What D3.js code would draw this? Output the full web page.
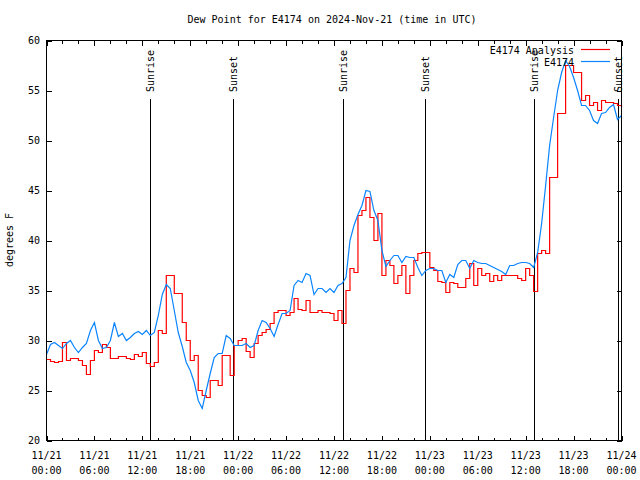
<!DOCTYPE html>
<html>
<head>
<meta charset="utf-8">
<script src="https://cdn.jsdelivr.net/npm/d3@7"></script>
<style>
  html, body { margin: 0; padding: 0; background: #fff; }
  svg { display: block; }
  text { font-family: "DejaVu Sans Mono", "Liberation Mono", monospace; font-size: 10px; fill: #000; }
</style>
</head>
<body>
<svg id="chart" width="640" height="480"></svg>
<script>
// ---------------- data ----------------
const titleText = "Dew Point for E4174 on 2024-Nov-21 (time in UTC)";
const yLabelText = "degrees F";
const startTime = "2024-11-21T00:00:00Z";
const endTime = "2024-11-24T00:00:00Z";
const stepMinutes = 30;
const seriesNames = ["E4174 Analysis", "E4174"];
const seriesColors = ["#ff0000", "#0a84ff"];

// E4174 Analysis (red), every 30 min from 11/21 00:00 UTC
const analysis = [
  28.1, 27.9, 27.8, 27.9, 29.8, 28.0, 28.2, 28.2, 28.0, 27.5,
  26.6, 28.0, 29.0, 28.8, 29.6, 29.3, 28.2, 28.2, 28.4, 28.4,
  28.2, 28.1, 28.6, 28.4, 28.8, 27.7, 27.4, 27.8, 31.0, 30.7,
  36.5, 36.5, 34.7, 34.7, 31.8, 30.0, 28.0, 28.5, 25.0, 24.5,
  24.3, 26.0, 26.0, 25.5, 28.5, 28.5, 26.5, 29.5, 30.0, 30.2,
  28.9, 28.3, 29.7, 30.5, 30.8, 31.1, 31.7, 32.8, 33.0, 33.0,
  32.5, 32.8, 34.2, 33.1, 33.0, 34.0, 32.8, 32.8, 33.0, 32.8,
  32.8, 32.7, 32.0, 33.0, 31.7, 35.0, 37.2, 36.8, 42.5, 43.0,
  44.3, 42.3, 40.0, 42.7, 36.5, 38.0, 37.5, 35.7, 36.5, 37.5,
  34.7, 36.5, 38.0, 38.7, 38.8, 38.8, 37.3, 37.0, 35.9, 35.8,
  34.8, 35.8, 35.7, 35.3, 35.3, 36.2, 37.7, 35.5, 37.2, 36.5,
  36.7, 35.9, 36.5, 36.0, 36.5, 36.5, 36.5, 36.5, 36.2, 36.0,
  37.2, 36.5, 34.9, 38.7, 39.0, 38.7, 46.3, 46.3, 52.7, 52.7,
  57.5, 57.5, 56.8, 56.8, 54.0, 54.5, 53.5, 53.8, 53.0, 54.0,
  53.8, 53.8, 53.7, 53.5, 53.3
];

// E4174 observations (blue), every 30 min from 11/21 00:00 UTC
const observed = [
  28.6, 29.6, 29.8, 29.5, 29.2, 29.7, 30.0, 29.3, 28.8, 29.3,
  29.7, 31.0, 31.8, 30.0, 29.2, 29.3, 30.0, 31.8, 30.4, 30.7,
  30.0, 30.3, 30.7, 30.9, 30.6, 31.0, 30.5, 30.8, 32.5, 34.6,
  35.6, 35.2, 33.0, 30.8, 29.4, 27.8, 27.0, 25.8, 24.0, 23.2,
  25.0, 26.7, 28.3, 28.7, 28.7, 30.5, 30.2, 29.5, 29.5, 29.5,
  29.7, 29.3, 29.5, 31.0, 32.0, 31.8, 31.2, 30.4, 31.6, 32.7,
  32.7, 33.0, 35.5, 36.0, 35.8, 36.7, 36.5, 34.6, 35.2, 35.2,
  34.8, 35.2, 34.8, 35.5, 35.7, 36.3, 40.0, 41.5, 42.6, 43.5,
  45.0, 44.9, 43.0, 42.0, 39.0, 37.4, 38.0, 38.5, 38.5, 37.8,
  38.4, 38.3, 38.3, 37.3, 36.5, 37.0, 37.2, 37.2, 37.0, 37.0,
  35.8, 36.6, 36.3, 37.6, 38.0, 38.0, 37.2, 38.0, 37.8, 37.7,
  37.7, 37.5, 37.3, 37.1, 36.9, 36.6, 37.5, 37.5, 37.7, 37.8,
  37.8, 37.7, 37.3, 38.8, 41.7, 45.5, 49.5, 52.3, 55.0, 56.8,
  58.0, 57.4, 56.3, 55.0, 53.5, 53.5, 53.0, 52.0, 51.7, 52.7,
  52.8, 53.3, 53.6, 52.1, 52.5
];

const eventLabels = ["Sunrise", "Sunset", "Sunrise", "Sunset", "Sunrise", "Sunset"];
const eventTimes = [
  "2024-11-21T13:01:00Z", "2024-11-21T23:24:00Z",
  "2024-11-22T13:04:00Z", "2024-11-22T23:27:00Z",
  "2024-11-23T13:06:00Z", "2024-11-23T23:30:00Z"
];

const yDomain = [20, 60];
const yTickValues = [20, 25, 30, 35, 40, 45, 50, 55, 60];
const xMajorHours = 6;
const xMinorHours = 2;

// ---------------- chart ----------------
const svg = d3.select("#chart");
const pLeft = 46.5, pRight = 621.5, pTop = 40.5, pBottom = 440.5;

const t0 = new Date(startTime), t1 = new Date(endTime);
const x = d3.scaleUtc().domain([t0, t1]).range([pLeft, pRight]);
const y = d3.scaleLinear().domain(yDomain).range([pBottom, pTop]);

const timeAt = i => new Date(t0.getTime() + i * stepMinutes * 60000);

const majorTicks = d3.utcHour.every(xMajorHours).range(t0, new Date(t1.getTime() + 1));
const minorTicks = d3.utcHour.every(xMinorHours).range(t0, new Date(t1.getTime() + 1))
  .filter(d => d.getUTCHours() % xMajorHours !== 0);

// title
svg.append("text").attr("x", 332).attr("y", 23).attr("text-anchor", "middle").text(titleText);

// y label
svg.append("text").attr("transform", "translate(13,240) rotate(-90)")
  .attr("text-anchor", "middle").text(yLabelText);

// axes ticks
function styleAxis(g) {
  g.select(".domain").remove();
  g.selectAll("line").attr("stroke", "#000").attr("shape-rendering", "crispEdges");
  g.selectAll("text").remove();
}
svg.append("g").attr("transform", `translate(0,${pBottom})`)
  .call(d3.axisBottom(x).tickValues(majorTicks).tickSize(-5).tickFormat(""))
  .call(styleAxis);
svg.append("g").attr("transform", `translate(0,${pBottom})`)
  .call(d3.axisBottom(x).tickValues(minorTicks).tickSize(-3).tickFormat(""))
  .call(styleAxis);
svg.append("g").attr("transform", `translate(0,${pTop})`)
  .call(d3.axisTop(x).tickValues(majorTicks).tickSize(-5).tickFormat(""))
  .call(styleAxis);
svg.append("g").attr("transform", `translate(0,${pTop})`)
  .call(d3.axisTop(x).tickValues(minorTicks).tickSize(-3).tickFormat(""))
  .call(styleAxis);
svg.append("g").attr("transform", `translate(${pLeft},0)`)
  .call(d3.axisLeft(y).tickValues(yTickValues).tickSize(-5).tickFormat(""))
  .call(styleAxis);
svg.append("g").attr("transform", `translate(${pRight},0)`)
  .call(d3.axisRight(y).tickValues(yTickValues).tickSize(-5).tickFormat(""))
  .call(styleAxis);

// y tick labels
svg.append("g").selectAll("text").data(yTickValues).join("text")
  .attr("x", 40).attr("y", d => y(d)).attr("dy", "0.35em")
  .attr("text-anchor", "end").text(d => d);

// x tick labels
const fmtDate = d3.utcFormat("%m/%d"), fmtTime = d3.utcFormat("%H:%M");
const xl = svg.append("g").selectAll("text").data(majorTicks).join("text")
  .attr("text-anchor", "middle");
xl.append("tspan").attr("x", d => x(d)).attr("y", 459).text(fmtDate);
xl.append("tspan").attr("x", d => x(d)).attr("y", 474).text(fmtTime);

// sunrise / sunset markers
const ev = svg.append("g");
eventTimes.forEach((t, i) => {
  const xx = Math.round(x(new Date(t))) + 0.5;
  ev.append("line").attr("x1", xx).attr("x2", xx).attr("y1", 99).attr("y2", pBottom)
    .attr("stroke", "#000").attr("shape-rendering", "crispEdges");
  ev.append("text").attr("transform", `translate(${xx},92) rotate(-90)`)
    .attr("text-anchor", "start").attr("dy", "0.35em").text(eventLabels[i]);
});

// series
const lineRed = d3.line().x((d, i) => x(timeAt(i))).y(d => y(d)).curve(d3.curveStepAfter);
const lineBlue = d3.line().x((d, i) => x(timeAt(i))).y(d => y(d));
svg.append("path").datum(analysis).attr("d", lineRed)
  .attr("fill", "none").attr("stroke", seriesColors[0]).attr("stroke-width", 1.2);
svg.append("path").datum(observed).attr("d", lineBlue)
  .attr("fill", "none").attr("stroke", seriesColors[1]).attr("stroke-width", 1.2);

// frame
svg.append("rect").attr("x", pLeft).attr("y", pTop).attr("width", pRight - pLeft).attr("height", pBottom - pTop)
  .attr("fill", "none").attr("stroke", "#000").attr("shape-rendering", "crispEdges");

// legend
const leg = svg.append("g");
seriesNames.forEach((n, i) => {
  const ly = 50 + i * 12;
  leg.append("text").attr("x", 574).attr("y", ly).attr("dy", "0.35em")
    .attr("text-anchor", "end").text(n);
  leg.append("line").attr("x1", 581).attr("x2", 610).attr("y1", ly - 0.5).attr("y2", ly - 0.5)
    .attr("stroke", seriesColors[i]).attr("stroke-width", 1.2);
});
</script>
</body>
</html>
